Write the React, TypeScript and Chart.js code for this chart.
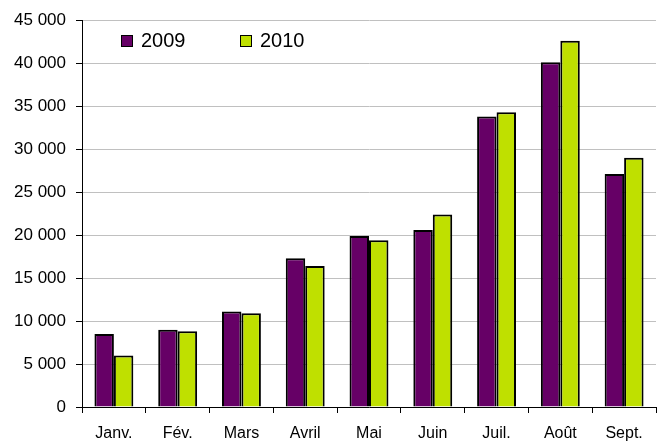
import React, { useEffect, useRef } from "react";
import { Chart, registerables } from "chart.js";

Chart.register(...registerables);

const categories = ["Janv.", "Fév.", "Mars", "Avril", "Mai", "Juin", "Juil.", "Août", "Sept."];
const values2009 = [8500, 9000, 11100, 17300, 19900, 20600, 33800, 40100, 27100];
const values2010 = [6000, 8800, 10900, 16400, 19400, 22400, 34300, 42600, 29000];
const seriesLabels = ["2009", "2010"];
const yTicks = [0, 5000, 10000, 15000, 20000, 25000, 30000, 35000, 40000, 45000];

const COLOR_2009 = "#660066";
const COLOR_2010 = "#bfe000";

const fmt = (v: number) => {
  if (v === 0) return "0";
  const s = String(v);
  return s.slice(0, s.length - 3) + " " + s.slice(s.length - 3);
};

const insideLegend = {
  id: "insideLegend",
  afterDraw(chart: any) {
    const ctx = chart.ctx;
    const positions = [
      { box: 121, text: 141 },
      { box: 240, text: 260 },
    ];
    ctx.save();
    chart.data.datasets.forEach((ds: any, i: number) => {
      const p = positions[i];
      ctx.fillStyle = ds.backgroundColor;
      ctx.fillRect(p.box, 35, 12, 12);
      ctx.strokeStyle = "#000";
      ctx.lineWidth = 1;
      ctx.strokeRect(p.box + 0.5, 35.5, 11, 11);
      ctx.fillStyle = "#000";
      ctx.font = "20px 'Liberation Sans', Arial, sans-serif";
      ctx.textBaseline = "middle";
      ctx.textAlign = "left";
      ctx.fillText(ds.label, p.text, 41);
    });
    ctx.restore();
  },
};

export default function App() {
  const ref = useRef<HTMLCanvasElement | null>(null);
  useEffect(() => {
    if (!ref.current) return;
    const chart = new Chart(ref.current, {
      type: "bar",
      data: {
        labels: categories,
        datasets: [
          {
            label: seriesLabels[0],
            data: values2009,
            backgroundColor: COLOR_2009,
            borderColor: "#000",
            borderWidth: 2,
            categoryPercentage: 0.61,
            barPercentage: 1,
          },
          {
            label: seriesLabels[1],
            data: values2010,
            backgroundColor: COLOR_2010,
            borderColor: "#000",
            borderWidth: 2,
            categoryPercentage: 0.61,
            barPercentage: 1,
          },
        ],
      },
      options: {
        animation: false,
        responsive: false,
        maintainAspectRatio: false,
        layout: { padding: { left: 0, top: 19, right: 9, bottom: 0 } },
        plugins: {
          legend: { display: false },
          tooltip: { enabled: false },
        },
        scales: {
          x: {
            grid: {
              display: true,
              drawOnChartArea: false,
              offset: true,
              tickLength: 6,
              tickColor: "#000",
            },
            border: { display: true, color: "#000", width: 1 },
            ticks: {
              color: "#000",
              padding: 11,
              maxRotation: 0,
              autoSkip: false,
              font: { family: "'Liberation Sans', Arial, sans-serif", size: 16 },
            },
            afterFit: (scale: any) => {
              scale.height = 34;
            },
          },
          y: {
            min: 0,
            max: 45000,
            afterBuildTicks: (scale: any) => {
              scale.ticks = yTicks.map((v) => ({ value: v }));
            },
            grid: {
              color: "#c0c0c0",
              lineWidth: 1,
              tickLength: 6,
              tickColor: "#000",
            },
            border: { display: true, color: "#000", width: 1 },
            ticks: {
              color: "#000",
              padding: 10,
              font: { family: "'Liberation Sans', Arial, sans-serif", size: 17 },
              callback: (v: any) => fmt(Number(v)),
            },
            afterFit: (scale: any) => {
              scale.width = 82;
            },
          },
        },
      },
      plugins: [insideLegend],
    });
    return () => chart.destroy();
  }, []);
  return (
    <div style={{ position: "fixed", left: 0, top: 0, width: 665, height: 441, background: "#fff" }}>
      <canvas ref={ref} width={665} height={441} style={{ width: 665, height: 441, display: "block" }} />
    </div>
  );
}
